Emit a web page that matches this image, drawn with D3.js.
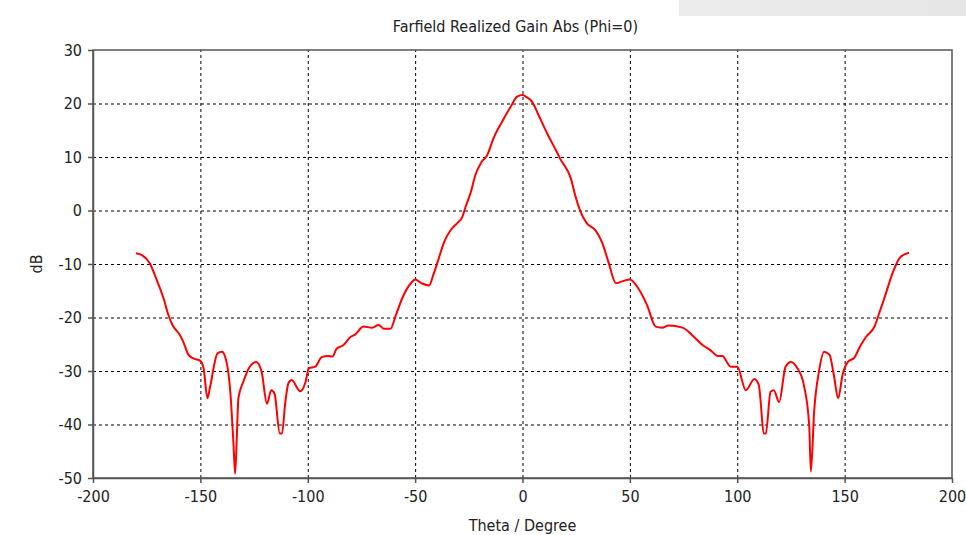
<!DOCTYPE html>
<html>
<head>
<meta charset="utf-8">
<script src="https://cdn.jsdelivr.net/npm/d3@7"></script>
<style>
  body { margin: 0; background: #fff; }
  svg text { font-family: "DejaVu Sans Condensed", "DejaVu Sans", sans-serif; fill: #222; }
  .grid line { stroke: #000; stroke-dasharray: 3,3; stroke-width: 1; }
  .grid path { display: none; }
  .axis path, .axis line { stroke: #555; stroke-width: 1.5; }
</style>
</head>
<body>
<svg id="chart" width="966" height="535"></svg>
<script>
// theta in degrees, realized gain in dB (phi = 0 cut)
const theta = [
  -180, -177, -173.5, -170.5, -167, -165, -163, -159.5, -158, -155.5, -153, -150,
  -148.5, -146.7, -145.5, -142, -140, -138.5, -136, -134.6, -133.8, -133, -132.3,
  -130, -127, -124, -121.5, -119, -117, -115.5, -113, -112, -110.5, -109, -107.5,
  -103.5, -101, -99.5, -96.5, -93.5, -90.5, -88.5, -86.5, -83.5, -80, -78, -74,
  -70, -67, -64.5, -61.5, -59, -56, -52, -50, -47, -43.5, -41.5, -39.5, -36.5,
  -33.5, -30.5, -28, -26.5, -24, -22, -19, -16.5, -13.5, -9.5, -5.5, -2.5, 0,
  1.5, 4.5, 7.5, 11.5, 15.5, 17.5, 22.5, 24.5, 27, 30, 34, 37, 40, 43.5, 46, 50,
  53.5, 58, 62, 65, 68, 74.5, 79, 84, 87.5, 91, 93, 97, 100, 104, 108, 110,
  112.5, 113.3, 115.5, 117, 119.5, 122.5, 125, 128, 131, 133.5, 134.3, 135.8,
  138, 140.5, 143, 145, 147, 149, 151.5, 154.5, 157.5, 160, 164, 166, 168.5,
  172.5, 176, 180
];
const gain = [
  -8.0, -8.4, -9.9, -12.8, -16.6, -19.4, -21.4, -23.3, -24.5, -27.0, -27.7, -28.1,
  -29.5, -35.1, -33.0, -26.7, -26.4, -27.3, -34.2, -43.5, -49.2, -42.0, -35.1,
  -32.0, -29.2, -28.3, -30.1, -36.1, -33.6, -34.2, -41.7, -41.7, -36.0, -32.3, -31.7,
  -33.8, -32.0, -29.5, -29.2, -27.4, -27.2, -27.3, -25.8, -25.2, -23.6, -23.2, -21.7,
  -21.9, -21.4, -22.1, -22.1, -19.6, -16.4, -13.6, -12.9, -13.6, -14.0, -12.0, -9.6, -5.9,
  -3.7, -2.4, -1.2, 0.7, 3.5, 6.6, 9.1, 10.3, 13.5, 16.6, 19.4, 21.3, 21.6,
  21.3, 20.3, 17.8, 14.4, 11.3, 9.7, 6.0, 2.9, -0.2, -2.4, -3.7, -5.9, -9.6, -13.6, -13.3, -12.9,
  -14.3, -17.7, -21.7, -21.9, -21.5, -21.9, -23.3, -25.2, -26.1, -27.2, -27.2, -29.2, -29.2, -33.6, -31.5, -32.6,
  -41.7, -41.7, -33.9, -33.6, -35.8, -29.2, -28.3, -29.5, -32.6, -40.1, -48.8, -37.6,
  -30.2, -26.4, -27.0, -30.8, -35.1, -30.8, -28.3, -27.5, -25.2, -23.6, -21.6, -19.3, -16.4,
  -11.5, -8.7, -7.9
];
const xTicks = [-200, -150, -100, -50, 0, 50, 100, 150, 200];
const yTicks = [-50, -40, -30, -20, -10, 0, 10, 20, 30];

const title = "Farfield Realized Gain Abs (Phi=0)";
const xLabel = "Theta / Degree";
const yLabel = "dB";

const margin = { top: 50, right: 14, bottom: 57, left: 93 };
const svg = d3.select("#chart");
const W = +svg.attr("width"), H = +svg.attr("height");
const width = W - margin.left - margin.right;
const height = H - margin.top - margin.bottom;

// grey strip in the top right corner
const grad = svg.append("defs").append("linearGradient").attr("id", "strip");
grad.append("stop").attr("offset", "0%").attr("stop-color", "#ececec");
grad.append("stop").attr("offset", "100%").attr("stop-color", "#e6e6e6");
svg.append("rect").attr("x", 679).attr("y", 0).attr("width", W - 679).attr("height", 16)
  .attr("fill", "url(#strip)");

const g = svg.append("g").attr("transform", `translate(${margin.left},${margin.top})`);

const x = d3.scaleLinear().domain([-200, 200]).range([0, width]);
const y = d3.scaleLinear().domain([-50, 30]).range([height, 0]);

// dotted grid, inner ticks only
g.append("g").attr("class", "grid")
  .attr("transform", `translate(0,${height})`)
  .call(d3.axisBottom(x).tickValues(xTicks.slice(1, -1)).tickSize(-height).tickFormat(""));
g.append("g").attr("class", "grid")
  .call(d3.axisLeft(y).tickValues(yTicks.slice(1, -1)).tickSize(-width).tickFormat(""));

// frame
g.append("rect").attr("width", width).attr("height", height)
  .attr("fill", "none").attr("stroke", "#555").attr("stroke-width", 1.5);

const fmt = d => String(d);  // plain hyphen, like the original
const xAxis = g.append("g").attr("class", "axis")
  .attr("transform", `translate(0,${height})`)
  .call(d3.axisBottom(x).tickValues(xTicks).tickSize(5).tickSizeOuter(0).tickPadding(8).tickFormat(fmt));
const yAxis = g.append("g").attr("class", "axis")
  .call(d3.axisLeft(y).tickValues(yTicks).tickSize(5).tickSizeOuter(0).tickPadding(6).tickFormat(fmt));
[xAxis, yAxis].forEach(a => a.selectAll("text")
  .style("font-family", '"DejaVu Sans Condensed", "DejaVu Sans", sans-serif')
  .style("font-size", "16px").attr("fill", "#222"));

// curve
const pts = theta.map((t, i) => [t, gain[i]]);
const line = d3.line().x(d => x(d[0])).y(d => y(d[1])).curve(d3.curveMonotoneX);
g.append("path").datum(pts).attr("d", line)
  .attr("fill", "none").attr("stroke", "#ff0000").attr("stroke-width", 2)
  .attr("stroke-linejoin", "round");

svg.append("text").attr("x", margin.left + width / 2 - 7).attr("y", 32)
  .attr("text-anchor", "middle").style("font-size", "16px").text(title);
svg.append("text").attr("x", margin.left + width / 2).attr("y", 531)
  .attr("text-anchor", "middle").style("font-size", "16px").text(xLabel);
svg.append("text").attr("transform", `translate(42,${margin.top + height / 2}) rotate(-90)`)
  .attr("text-anchor", "middle").style("font-size", "16px").text(yLabel);
</script>
</body>
</html>
